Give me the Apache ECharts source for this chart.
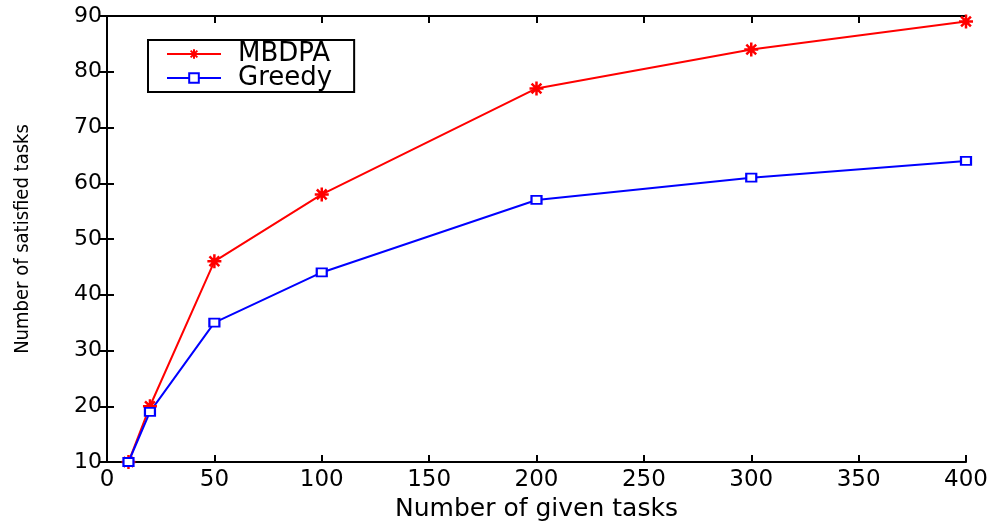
<!DOCTYPE html>
<html><head><meta charset="utf-8">
<script src="https://cdn.jsdelivr.net/npm/echarts@6/dist/echarts.min.js"></script>
<style>html,body{margin:0;padding:0;background:#fff}#c{width:996px;height:522px}</style>
</head><body><div id="c"></div>
<script>
const xValues = [10, 20, 50, 100, 200, 300, 400];
const mbdpa = [10, 20, 46, 58, 77, 84, 89];
const greedy = [10, 19, 35, 44, 57, 61, 64];
const seriesNames = ['MBDPA', 'Greedy'];

const star = 'path://M0,-10 L0,10 M-10,0 L10,0 M-7,-7 L7,7 M-7,7 L7,-7';
const font = 'DejaVu Sans, Verdana, sans-serif';
const fontC = 'DejaVu Sans Condensed, Liberation Sans, Arial, sans-serif';
const chart = echarts.init(document.getElementById('c'));
const axisLine = {show: true, lineStyle: {color: '#000', width: 2}};
const tick = {show: true, inside: true, length: 7, lineStyle: {color: '#000', width: 2}};
chart.setOption({
  animation: false,
  grid: {left: 107, right: 30, top: 16, bottom: 60, containLabel: false, outerBoundsMode: 'none'},
  xAxis: [{
    type: 'value', min: 0, max: 400, interval: 50,
    name: 'Number of given tasks', nameLocation: 'middle', nameGap: 32,
    nameTextStyle: {fontFamily: font, fontSize: 25, color: '#000'},
    axisLine, axisTick: tick, splitLine: {show: false},
    axisLabel: {fontFamily: font, fontSize: 23, color: '#000', margin: 7}
  }, {
    type: 'value', min: 0, max: 400, interval: 50, position: 'top',
    axisLine, axisTick: tick, splitLine: {show: false}, axisLabel: {show: false}
  }],
  yAxis: [{
    type: 'value', min: 10, max: 90, interval: 10,
    name: 'Number of satisfied tasks', nameLocation: 'middle', nameGap: 74,
    nameTextStyle: {fontFamily: fontC, fontSize: 20, color: '#000'},
    axisLine, axisTick: tick, splitLine: {show: false},
    axisLabel: {fontFamily: font, fontSize: 22, color: '#000', margin: 5}
  }, {
    type: 'value', min: 10, max: 90, interval: 10, position: 'right',
    axisLine, axisTick: tick, splitLine: {show: false}, axisLabel: {show: false}
  }],
  legend: {
    orient: 'vertical', left: 148, top: 40,
    data: seriesNames,
    itemWidth: 54, itemHeight: 12, itemGap: -2,
    padding: [1, 22, 1, 18],
    borderColor: '#000', borderWidth: 2, borderRadius: 0,
    textStyle: {fontFamily: font, fontSize: 26, color: '#000', padding: [0, 0, 0, 12]}
  },
  series: [{
    name: seriesNames[0], type: 'line',
    data: xValues.map((x, i) => [x, mbdpa[i]]),
    symbol: star, symbolSize: 14,
    lineStyle: {color: '#ff0000', width: 2},
    itemStyle: {color: '#ff0000', borderColor: '#ff0000', borderWidth: 2.5}
  }, {
    name: seriesNames[1], type: 'line',
    data: xValues.map((x, i) => [x, greedy[i]]),
    symbol: 'rect', symbolSize: [10, 8],
    lineStyle: {color: '#0000ff', width: 2},
    itemStyle: {color: '#fff', borderColor: '#0000ff', borderWidth: 2}
  }]
});
</script></body></html>
